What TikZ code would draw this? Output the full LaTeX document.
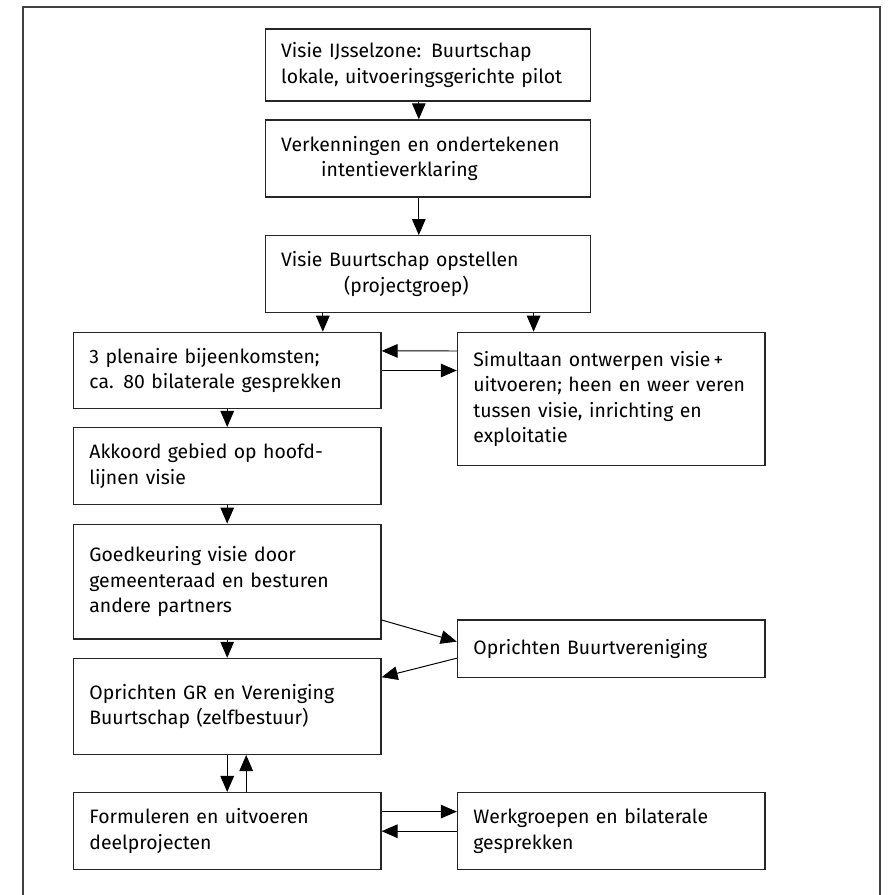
\documentclass[tikz,border=0pt]{standalone}
\usepackage{fontspec}
\setmainfont{Fira Sans}
\usetikzlibrary{arrows.meta}

\begin{document}
\begin{tikzpicture}[>={Triangle[length=0.4cm,width=0.34cm]}, line width=0.7pt,
    blok/.style={draw=black!85, line width=0.9pt, align=left, inner xsep=0.4cm,
	inner ysep=0pt, font=\fontsize{13.8}{18.2}\selectfont},
    breed/.style={blok, text width=7.34cm},
    smal/.style={blok, text width=6.89cm}]
    \useasboundingbox (0,0) rectangle (22.35,-22.375);
    \draw [black!75, line width=1pt] (0.57,-22.375) |- (22.0,-0.17) -- (22.0,-22.375);
    \path (10.70, -1.625) node [breed,minimum height=1.8cm]
	(ijssel) {Visie IJsselzone: Buurtschap\\lokale, uitvoeringsgerichte pilot};
    \path (10.70, -3.96) node [breed,minimum height=1.925cm]
	(verk) {Verkenningen en ondertekenen\\\hspace*{1cm}intentieverklaring};
    \path (10.70, -6.855) node [breed,minimum height=1.925cm]
	(visie) {Visie Buurtschap opstellen\\\hspace*{1.57cm}(projectgroep)};
    \path ( 5.68, -9.2625) node [smal,minimum height=1.91cm]
	(plenair) {3 plenaire bijeenkomsten;\\ca. 80 bilaterale gesprekken};
    \path (15.28, -9.975) node [smal,minimum height=3.335cm]
	(simult) {Simultaan ontwerpen visie\,+\\uitvoeren; heen en weer veren\\tussen visie, inrichting en\\exploitatie};
    \path ( 5.68,-11.65) node [smal,minimum height=1.92cm]
	(akkoord) {Akkoord gebied op hoofd-\\lijnen visie};
    \path ( 5.68,-14.54) node [smal,minimum height=2.87cm]
	(goedk) {Goedkeuring visie door\\gemeenteraad en besturen\\andere partners};
    \path (15.28,-16.22) node [smal,minimum height=1.44cm]
	(buurtver) {Oprichten Buurtvereniging};
    \path ( 5.68,-17.66) node [smal,minimum height=2.4cm]
	(oprgr) {Oprichten GR en Vereniging\\Buurtschap (zelfbestuur)};
    \path ( 5.68,-20.78) node [smal,minimum height=1.93cm]
	(formul) {Formuleren en uitvoeren\\deelprojecten};
    \path (15.28,-20.78) node [smal,minimum height=1.93cm]
	(werkgr) {Werkgroepen en bilaterale\\gesprekken};
    \draw [->] ([xshift=-0.23cm]ijssel.south) -- ([xshift=-0.23cm]verk.north);
    \draw [->] ([xshift=-0.23cm]verk.south) -- ([xshift=-0.23cm]visie.north);
    \draw [->] ([xshift=-2.63cm]visie.south) -- ([xshift=-2.63cm]visie.south |- plenair.north);
    \draw [->] ([xshift=2.64cm]visie.south) -- ([xshift=2.64cm]visie.south |- simult.north);
    \draw [->] ([yshift=1.2cm]simult.west) -- ([yshift=0.49cm]plenair.east);
    \draw [->] (plenair.east) -- (plenair.east -| simult.west);
    \draw [->] (plenair) -- (akkoord);
    \draw [->] (akkoord) -- (goedk);
    \draw [->] (goedk) -- (oprgr);
    \draw [->] ([yshift=-0.96cm]goedk.east) -- ([yshift=0.18cm]buurtver.west);
    \draw [->] ([yshift=-0.235cm]buurtver.west) -- ([yshift=0.73cm]oprgr.east);
    \draw [->] (oprgr) -- (formul);
    \draw [->] ([xshift=0.475cm]formul.north) -- ([xshift=0.475cm]oprgr.south);
    \draw [->] ([yshift=0.49cm]formul.east) -- ([yshift=0.49cm]werkgr.west);
    \draw [->] (werkgr) -- (formul);
\end{tikzpicture}
\end{document}
